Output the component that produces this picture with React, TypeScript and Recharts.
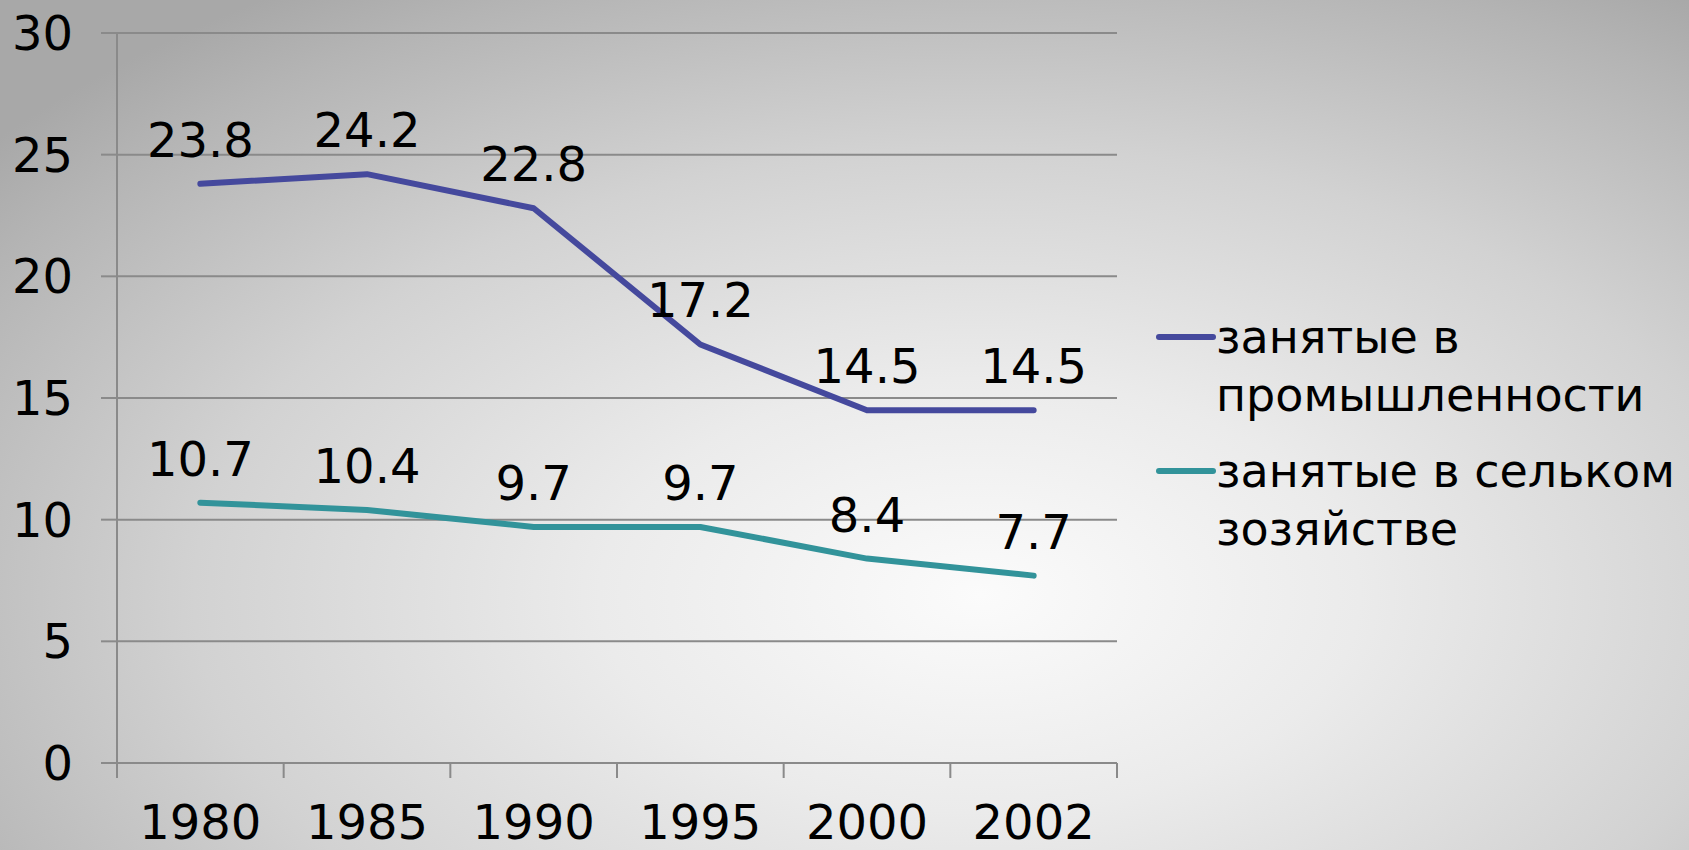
import { CartesianGrid, LabelList, Line, LineChart, XAxis, YAxis } from "recharts"

const years = ["1980", "1985", "1990", "1995", "2000", "2002"]
const industry = [23.8, 24.2, 22.8, 17.2, 14.5, 14.5]
const agriculture = [10.7, 10.4, 9.7, 9.7, 8.4, 7.7]
const yTicks = [0, 5, 10, 15, 20, 25, 30]

const seriesNames = {
  industry: "занятые в промышленности",
  agriculture: "занятые в сельком зозяйстве",
}

const data = years.map((year, i) => ({
  year,
  industry: industry[i],
  agriculture: agriculture[i],
}))

const FONT = "'DejaVu Sans', Verdana, sans-serif"
const AXIS = "#8a8a8a"
const BLUE = "#45499d"
const TEAL = "#32939a"
const HALF_BAND = 1000 / years.length / 2

const legendItems = [
  { name: seriesNames.industry, color: BLUE },
  { name: seriesNames.agriculture, color: TEAL },
]

function YearTick(props: any) {
  const { x, y, payload, index, visibleTicksCount } = props
  return (
    <g>
      <line x1={x - HALF_BAND} x2={x - HALF_BAND} y1={y} y2={y + 15} stroke={AXIS} strokeWidth={2} />
      {index === visibleTicksCount - 1 && (
        <line x1={x + HALF_BAND} x2={x + HALF_BAND} y1={y} y2={y + 15} stroke={AXIS} strokeWidth={2} />
      )}
      <text x={x} y={y + 42} dy="0.71em" textAnchor="middle" fill="#000" fontSize={48} fontFamily={FONT}>
        {payload.value}
      </text>
    </g>
  )
}

function SeriesLegend() {
  return (
    <div
      style={{
        position: "absolute",
        left: 1155,
        top: 308,
        fontFamily: FONT,
        fontSize: 46,
        color: "#000",
        lineHeight: "58px",
      }}
    >
      {legendItems.map((item) => (
        <div key={item.name} style={{ display: "flex", alignItems: "flex-start", marginBottom: 18 }}>
          <svg width={61} height={58} style={{ flex: "none" }}>
            <line x1={4} x2={58} y1={29} y2={29} stroke={item.color} strokeWidth={6} strokeLinecap="round" />
          </svg>
          <span style={{ width: 490 }}>{item.name}</span>
        </div>
      ))}
    </div>
  )
}

export default function App() {
  return (
    <div
      style={{
        position: "absolute",
        top: 0,
        left: 0,
        width: 1689,
        height: 850,
        overflow: "hidden",
        background:
          "radial-gradient(ellipse 75% 85% at 58% 70%, #fbfbfb 0%, #ebebeb 30%, #d2d2d2 62%, #b4b4b4 90%, #a8a8a8 100%)",
      }}
    >
      <LineChart width={1689} height={850} data={data} margin={{ top: 33, right: 572, left: 0, bottom: 0 }}>
        <CartesianGrid vertical={false} stroke={AXIS} strokeWidth={2} />
        <XAxis
          dataKey="year"
          height={87}
          padding={{ left: HALF_BAND, right: HALF_BAND }}
          axisLine={{ stroke: AXIS, strokeWidth: 2 }}
          tickLine={false}
          tickSize={0}
          tickMargin={0}
          interval={0}
          tick={<YearTick />}
        />
        <YAxis
          width={117}
          domain={[0, 30]}
          ticks={yTicks}
          interval={0}
          axisLine={{ stroke: AXIS, strokeWidth: 2 }}
          tickLine={{ stroke: AXIS, strokeWidth: 2 }}
          tickSize={16}
          tickMargin={28}
          tick={{ fill: "#000", fontSize: 48, fontFamily: FONT }}
        />
        <Line
          type="linear"
          dataKey="industry"
          name={seriesNames.industry}
          stroke={BLUE}
          strokeWidth={6}
          strokeLinecap="round"
          strokeLinejoin="round"
          dot={false}
          activeDot={false}
          isAnimationActive={false}
        >
          <LabelList dataKey="industry" position="top" offset={27} fill="#000" fontSize={48} fontFamily={FONT} />
        </Line>
        <Line
          type="linear"
          dataKey="agriculture"
          name={seriesNames.agriculture}
          stroke={TEAL}
          strokeWidth={6}
          strokeLinecap="round"
          strokeLinejoin="round"
          dot={false}
          activeDot={false}
          isAnimationActive={false}
        >
          <LabelList dataKey="agriculture" position="top" offset={27} fill="#000" fontSize={48} fontFamily={FONT} />
        </Line>
      </LineChart>
      <SeriesLegend />
    </div>
  )
}
